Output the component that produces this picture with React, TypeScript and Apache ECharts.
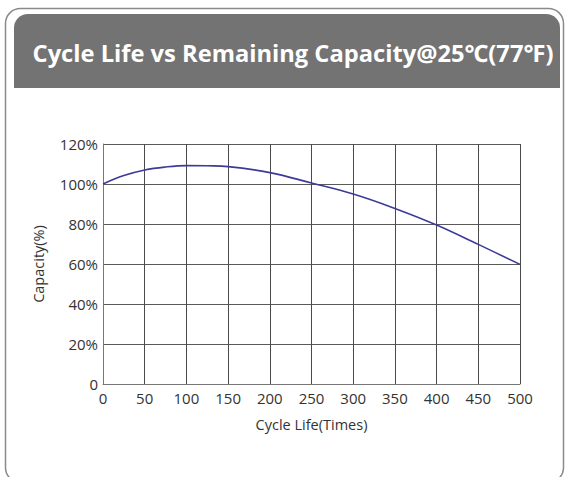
import React, { useEffect, useRef } from "react";
import * as echarts from "echarts";

const cycles = [0, 25, 50, 75, 100, 125, 150, 200, 250, 300, 350, 400, 450, 500];
const capacity = [100, 104.2, 107, 108.5, 109.2, 109.1, 108.7, 105.7, 100.5, 95, 87.8, 79.5, 69.8, 59.8];
const titleText = "Cycle Life vs Remaining Capacity@25℃(77℉)";
const xName = "Cycle Life(Times)";
const yName = "Capacity(%)";

export default function App() {
  const ref = useRef<HTMLDivElement>(null);
  useEffect(() => {
    if (!ref.current) return;
    const chart = echarts.init(ref.current, undefined, { renderer: "svg" });
    const font = "'Open Sans', 'Noto Sans', sans-serif";
    chart.setOption({
      animation: false,
      backgroundColor: "#ffffff",
      graphic: [
        {
          type: "rect",
          shape: { x: 5.5, y: 8.5, width: 558, height: 474, r: 15 },
          style: { fill: "none", stroke: "#8a8a8a", lineWidth: 1.5 },
          silent: true,
        },
        {
          type: "rect",
          shape: { x: 14, y: 14, width: 546, height: 74, r: [14, 14, 0, 0] },
          style: { fill: "#737373" },
          silent: true,
        },
        {
          type: "text",
          x: 293,
          y: 53,
          style: {
            text: titleText,
            fill: "#ffffff",
            font: `bold 23.7px ${font}`,
            textAlign: "center",
            textVerticalAlign: "middle",
          },
          silent: true,
        },
      ],
      grid: { left: 103, right: 45, top: 144, bottom: 93, containLabel: false },
      xAxis: {
        type: "value",
        min: 0,
        max: 500,
        interval: 50,
        name: xName,
        nameLocation: "middle",
        nameGap: 33,
        nameTextStyle: { color: "#333", fontSize: 14.5, fontFamily: font },
        axisLine: { show: true, lineStyle: { color: "#777", width: 1 } },
        axisTick: { show: false },
        axisLabel: { color: "#333", fontSize: 15, fontFamily: font, margin: 6 },
        splitLine: { show: true, lineStyle: { color: "#4a4a4a", width: 1 } },
      },
      yAxis: {
        type: "value",
        min: 0,
        max: 120,
        interval: 20,
        name: yName,
        nameLocation: "middle",
        nameGap: 57,
        nameRotate: 90,
        nameTextStyle: { color: "#333", fontSize: 14.5, fontFamily: font },
        axisLine: { show: true, lineStyle: { color: "#777", width: 1 } },
        axisTick: { show: false },
        axisLabel: {
          color: "#333",
          fontSize: 15,
          fontFamily: font,
          margin: 5,
          formatter: (v: number) => (v === 0 ? "0" : v + "%"),
        },
        splitLine: { show: true, lineStyle: { color: "#5a5a5a", width: 1 } },
      },
      series: [
        {
          type: "line",
          data: cycles.map((c, i) => [c, capacity[i]]),
          smooth: 0.4,
          showSymbol: false,
          lineStyle: { color: "#3b3b98", width: 1.6 },
        },
      ],
    });
    return () => chart.dispose();
  }, []);
  return (
    <div
      ref={ref}
      style={{ position: "absolute", left: 0, top: 0, width: 565, height: 477 }}
    />
  );
}
